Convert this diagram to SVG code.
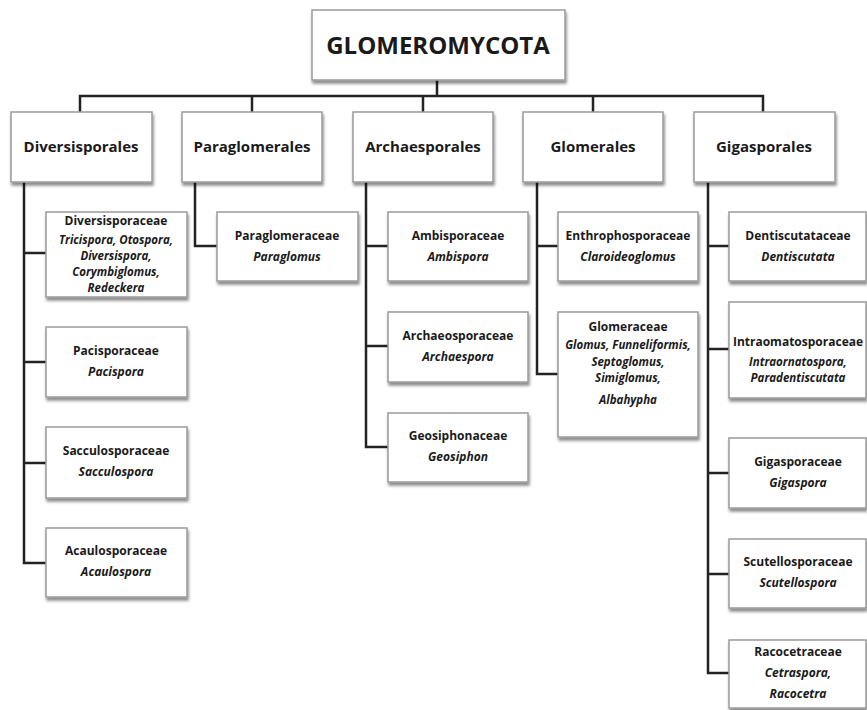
<svg xmlns="http://www.w3.org/2000/svg" width="867" height="710" viewBox="0 0 867 710">
<style>
.box{fill:#fff;stroke:#9a9a9a;stroke-width:1.5;filter:url(#sh)}
.ln{fill:none;stroke:#222;stroke-width:2.5;stroke-linecap:square}
text{font-family:"Open Sans","Liberation Sans",sans-serif;font-weight:bold;fill:#1a1a1a;text-anchor:middle}
.t0{font-size:24px}
.t1{font-size:15px}
.t2{font-size:12px}
.it{font-style:italic}
.sm{font-size:11.5px}
</style>
<defs>
<filter id="sh" x="-10%" y="-10%" width="125%" height="130%">
<feDropShadow dx="1" dy="3" stdDeviation="1.6" flood-color="#000" flood-opacity="0.45"/>
</filter>
</defs>
<g id="connectors">
<path class="ln" d="M437,80 V96 M80,96 H763 M80,96 V112 M252,96 V112 M423,96 V112 M593,96 V112 M763,96 V112"/>
<path class="ln" d="M24,182 V563 M24,253 H46 M24,362 H46 M24,463 H46 M24,563 H46"/>
<path class="ln" d="M195,182 V246 H217"/>
<path class="ln" d="M366,182 V447 M366,246 H388 M366,346 H388 M366,447 H388"/>
<path class="ln" d="M537,182 V374 M537,246 H558 M537,374 H558"/>
<path class="ln" d="M708,182 V673 M708,246 H729 M708,349 H729 M708,473 H729 M708,574 H729 M708,673 H729"/>
</g>
<g id="glomeromycota"><rect class="box" x="312" y="10" width="253" height="70"/><text class="t0" x="438" y="54">GLOMEROMYCOTA</text></g>
<g id="diversisporales"><rect class="box" x="11" y="112" width="141" height="70"/><text class="t1" x="81" y="152">Diversisporales</text></g>
<g id="paraglomerales"><rect class="box" x="182" y="112" width="140" height="70"/><text class="t1" x="252" y="152">Paraglomerales</text></g>
<g id="archaesporales"><rect class="box" x="353" y="112" width="140" height="70"/><text class="t1" x="423" y="152">Archaesporales</text></g>
<g id="glomerales"><rect class="box" x="523" y="112" width="140" height="70"/><text class="t1" x="593" y="152">Glomerales</text></g>
<g id="gigasporales"><rect class="box" x="694" y="112" width="141" height="70"/><text class="t1" x="764" y="152">Gigasporales</text></g>

<g id="diversisporaceae"><rect class="box" x="46" y="212" width="141" height="85"/>
<text class="t2" x="116" y="225">Diversisporaceae</text>
<text class="t2 it sm" x="116" y="244">Tricispora, Otospora,</text>
<text class="t2 it sm" x="116" y="260">Diversispora,</text>
<text class="t2 it sm" x="116" y="276">Corymbiglomus,</text>
<text class="t2 it sm" x="116" y="292">Redeckera</text></g>
<g id="pacisporaceae"><rect class="box" x="46" y="327" width="141" height="70"/>
<text class="t2" x="116" y="355">Pacisporaceae</text><text class="t2 it" x="116" y="376">Pacispora</text></g>
<g id="sacculosporaceae"><rect class="box" x="46" y="427" width="141" height="71"/>
<text class="t2" x="116" y="455">Sacculosporaceae</text><text class="t2 it" x="116" y="476">Sacculospora</text></g>
<g id="acaulosporaceae"><rect class="box" x="46" y="528" width="141" height="69"/>
<text class="t2" x="116" y="555">Acaulosporaceae</text><text class="t2 it" x="116" y="576">Acaulospora</text></g>

<g id="paraglomeraceae"><rect class="box" x="217" y="212" width="141" height="69"/>
<text class="t2" x="287" y="240">Paraglomeraceae</text><text class="t2 it" x="287" y="261">Paraglomus</text></g>

<g id="ambisporaceae"><rect class="box" x="388" y="212" width="140" height="69"/>
<text class="t2" x="458" y="240">Ambisporaceae</text><text class="t2 it" x="458" y="261">Ambispora</text></g>
<g id="archaeosporaceae"><rect class="box" x="388" y="312" width="140" height="70"/>
<text class="t2" x="458" y="340">Archaeosporaceae</text><text class="t2 it" x="458" y="361">Archaespora</text></g>
<g id="geosiphonaceae"><rect class="box" x="388" y="413" width="140" height="69"/>
<text class="t2" x="458" y="440">Geosiphonaceae</text><text class="t2 it" x="458" y="461">Geosiphon</text></g>

<g id="enthrophosporaceae"><rect class="box" x="558" y="212" width="140" height="69"/>
<text class="t2" x="628" y="240">Enthrophosporaceae</text><text class="t2 it" x="628" y="261">Claroideoglomus</text></g>
<g id="glomeraceae"><rect class="box" x="558" y="312" width="140" height="125"/>
<text class="t2" x="628" y="331">Glomeraceae</text>
<text class="t2 it sm" x="628" y="349">Glomus, Funneliformis,</text>
<text class="t2 it sm" x="628" y="366">Septoglomus,</text>
<text class="t2 it sm" x="628" y="382">Simiglomus,</text>
<text class="t2 it sm" x="628" y="404">Albahypha</text></g>

<g id="dentiscutataceae"><rect class="box" x="729" y="212" width="137" height="69"/>
<text class="t2" x="798" y="240">Dentiscutataceae</text><text class="t2 it" x="798" y="261">Dentiscutata</text></g>
<g id="intraomatosporaceae"><rect class="box" x="729" y="302" width="137" height="96"/>
<text class="t2" x="798" y="346">Intraomatosporaceae</text>
<text class="t2 it sm" x="798" y="366">Intraornatospora,</text>
<text class="t2 it sm" x="798" y="382">Paradentiscutata</text></g>
<g id="gigasporaceae"><rect class="box" x="729" y="438" width="137" height="70"/>
<text class="t2" x="798" y="466">Gigasporaceae</text><text class="t2 it" x="798" y="487">Gigaspora</text></g>
<g id="scutellosporaceae"><rect class="box" x="729" y="539" width="137" height="69"/>
<text class="t2" x="798" y="566">Scutellosporaceae</text><text class="t2 it" x="798" y="587">Scutellospora</text></g>
<g id="racocetraceae"><rect class="box" x="729" y="640" width="137" height="68"/>
<text class="t2" x="798" y="656">Racocetraceae</text>
<text class="t2 it" x="798" y="677">Cetraspora,</text>
<text class="t2 it" x="798" y="698">Racocetra</text></g>
</svg>
